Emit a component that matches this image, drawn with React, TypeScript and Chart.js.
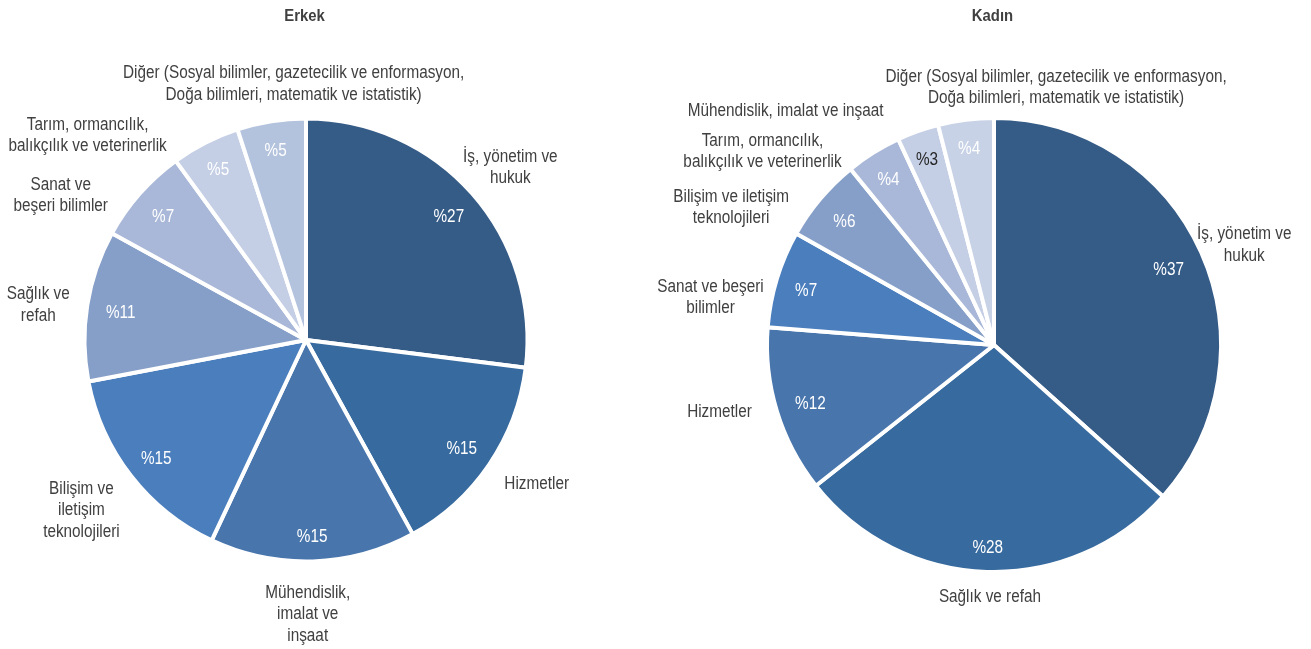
import { useEffect, useRef } from "react";
import { Chart, registerables } from "chart.js";

Chart.register(...registerables);

// ---------------- data ----------------
const erkekTitle = "Erkek";
const erkekCategories = [
  "İş, yönetim ve\nhukuk",
  "Hizmetler",
  "Mühendislik,\nimalat ve\ninşaat",
  "Bilişim ve\niletişim\nteknolojileri",
  "Sağlık ve\nrefah",
  "Sanat ve\nbeşeri bilimler",
  "Tarım, ormancılık,\nbalıkçılık ve veterinerlik",
  "Diğer (Sosyal bilimler, gazetecilik ve enformasyon,\nDoğa bilimleri, matematik ve istatistik)",
];
const erkekValues = [27, 15, 15, 15, 11, 7, 5, 5];

const kadinTitle = "Kadın";
const kadinCategories = [
  "İş, yönetim ve\nhukuk",
  "Sağlık ve refah",
  "Hizmetler",
  "Sanat ve beşeri\nbilimler",
  "Bilişim ve iletişim\nteknolojileri",
  "Tarım, ormancılık,\nbalıkçılık ve veterinerlik",
  "Mühendislik, imalat ve inşaat",
  "Diğer (Sosyal bilimler, gazetecilik ve enformasyon,\nDoğa bilimleri, matematik ve istatistik)",
];
const kadinValues = [37, 28, 12, 7, 6, 4, 3, 4];

// ---------------- styles ----------------
const erkekColors = ["#355B87", "#376A9E", "#4775AC", "#4A7EBD", "#869FC8", "#A9B8D8", "#C4CEE4", "#B3C2DD"];
const kadinColors = ["#355B87", "#376A9E", "#4775AC", "#4A7EBD", "#869FC8", "#A9B8D8", "#C4CEE4", "#C8D2E6"];
const erkekPctColors = ["#fff", "#fff", "#fff", "#fff", "#fff", "#fff", "#fff", "#fff"];
const kadinPctColors = ["#fff", "#fff", "#fff", "#fff", "#fff", "#fff", "#262626", "#fff"];

// label layout adjustments (px) relative to the automatic outside-end placement
const erkekLabelNudges = [[-7, -3], [10, 6], [-7, 8], [-9, 7], [-5, 5], [-34, 25], [-76, 24], [51, -3]];
const kadinLabelNudges = [[-12, 7], [5, 2], [-14, -6], [-3, 29], [-35, 31], [-62, 28], [-95, 2], [113, 2]];

const FONT_FAMILY = '"Liberation Sans", Arial, sans-serif';
const FONT_SIZE = 17.5;
const SCALE_X = 0.875;
const LINE_H = 21.5;
const TEXT_COLOR = "#404040";
const BORDER_W = 4;

function drawText(ctx: CanvasRenderingContext2D, text: string, x: number, y: number, font: string, color: string) {
  ctx.save();
  ctx.font = font;
  ctx.fillStyle = color;
  ctx.textAlign = "center";
  ctx.textBaseline = "middle";
  ctx.translate(x, y);
  ctx.scale(SCALE_X, 1);
  ctx.fillText(text, 0, 0);
  ctx.restore();
}

const pieLabelsPlugin = {
  id: "pieLabels",
  afterDatasetsDraw(chart: any, _args: any, opts: any) {
    const ctx: CanvasRenderingContext2D = chart.ctx;
    const meta = chart.getDatasetMeta(0);
    const values: number[] = chart.data.datasets[0].data;
    const cats: string[] = chart.data.labels;
    const font = `${FONT_SIZE}px ${FONT_FAMILY}`;
    let cx = 0;
    meta.data.forEach((arc: any, i: number) => {
      const p = arc.getProps(["x", "y", "startAngle", "endAngle", "outerRadius"], true);
      cx = p.x;
      const r = p.outerRadius - BORDER_W / 2;
      const mid = (p.startAngle + p.endAngle) / 2;
      const ux = Math.cos(mid);
      const uy = Math.sin(mid);

      // percentage label (inside end)
      ctx.font = font;
      const pct = "%" + values[i];
      const pw = ctx.measureText(pct).width * SCALE_X;
      const ext = Math.min(
        Math.abs(ux) > 1e-6 ? pw / 2 / Math.abs(ux) : Infinity,
        Math.abs(uy) > 1e-6 ? 8 / Math.abs(uy) : Infinity
      );
      const d = r - 17 - ext;
      drawText(ctx, pct, p.x + ux * d, p.y + uy * d + 3, font, opts.pctColors[i]);

      // category label (outside end)
      const lines = cats[i].split("\n");
      ctx.font = font;
      const w = Math.max(...lines.map((l) => ctx.measureText(l).width)) * SCALE_X;
      const h = lines.length * LINE_H;
      const D = r + 15;
      const nx = opts.nudges[i][0];
      const ny = opts.nudges[i][1];
      const bx = p.x + ux * D + ux * (w / 2) + nx;
      const by = p.y + uy * D + uy * (h / 2) + ny;
      lines.forEach((line, j) => {
        drawText(ctx, line, bx, by + (j - (lines.length - 1) / 2) * LINE_H, font, TEXT_COLOR);
      });
    });
    // title
    drawText(ctx, opts.title, cx - 1.5, 16, `bold 17px ${FONT_FAMILY}`, TEXT_COLOR);
  },
};

type Spec = {
  title: string;
  categories: string[];
  values: number[];
  colors: string[];
  pctColors: string[];
  nudges: number[][];
  left: number;
  width: number;
  centerX: number;
  centerY: number;
  radius: number;
};

function PieCanvas({ spec }: { spec: Spec }) {
  const ref = useRef<HTMLCanvasElement>(null);
  useEffect(() => {
    const half = 230;
    const chart = new Chart(ref.current as HTMLCanvasElement, {
      type: "pie",
      data: {
        labels: spec.categories,
        datasets: [
          {
            data: spec.values,
            backgroundColor: spec.colors,
            borderColor: "#ffffff",
            borderWidth: BORDER_W,
            hoverOffset: 0,
            radius: spec.radius + BORDER_W / 2,
          } as any,
        ],
      },
      options: {
        responsive: false,
        animation: false,
        devicePixelRatio: 1,
        layout: {
          padding: {
            left: spec.centerX - half,
            right: spec.width - spec.centerX - half,
            top: spec.centerY - half,
            bottom: 649 - spec.centerY - half,
          },
        },
        plugins: {
          legend: { display: false },
          tooltip: { enabled: false },
          title: { display: false },
          pieLabels: {
            title: spec.title,
            pctColors: spec.pctColors,
            nudges: spec.nudges,
          },
        } as any,
      },
      plugins: [pieLabelsPlugin],
    });
    return () => chart.destroy();
  }, []);
  return (
    <canvas
      ref={ref}
      width={spec.width}
      height={649}
      style={{ position: "absolute", left: spec.left, top: 0, width: spec.width, height: 649, display: "block" }}
    />
  );
}

const erkekSpec: Spec = {
  title: erkekTitle,
  categories: erkekCategories,
  values: erkekValues,
  colors: erkekColors,
  pctColors: erkekPctColors,
  nudges: erkekLabelNudges,
  left: 0,
  width: 655,
  centerX: 306,
  centerY: 340,
  radius: 219.5,
};

const kadinSpec: Spec = {
  title: kadinTitle,
  categories: kadinCategories,
  values: kadinValues,
  colors: kadinColors,
  pctColors: kadinPctColors,
  nudges: kadinLabelNudges,
  left: 655,
  width: 656,
  centerX: 339,
  centerY: 345,
  radius: 225,
};

export default function App() {
  return (
    <div style={{ position: "absolute", left: 0, top: 0, width: 1311, height: 649, background: "#ffffff" }}>
      <PieCanvas spec={erkekSpec} />
      <PieCanvas spec={kadinSpec} />
    </div>
  );
}
